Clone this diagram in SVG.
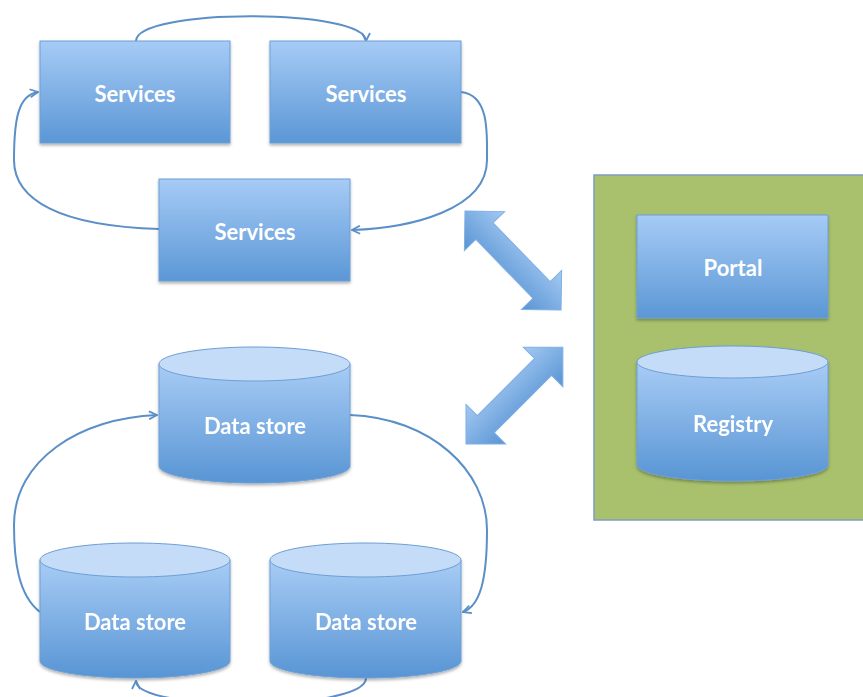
<svg xmlns="http://www.w3.org/2000/svg" width="863" height="697" viewBox="0 0 863 697">
<defs>
<linearGradient id="gBox" x1="0" y1="0" x2="0" y2="1">
<stop offset="0" stop-color="#a6cbf6"/>
<stop offset="1" stop-color="#5b97d5"/>
</linearGradient>
<linearGradient id="gCyl" x1="0" y1="0" x2="0" y2="1">
<stop offset="0" stop-color="#a8ccf5"/>
<stop offset="1" stop-color="#5895d4"/>
</linearGradient>
<linearGradient id="gArr" gradientUnits="userSpaceOnUse" x1="0" y1="-28" x2="0" y2="28">
<stop offset="0" stop-color="#a4c9f3"/>
<stop offset="1" stop-color="#5894d3"/>
</linearGradient>
<filter id="sh" x="-10%" y="-10%" width="120%" height="130%">
<feDropShadow dx="0" dy="2" stdDeviation="1.5" flood-color="#000" flood-opacity="0.3"/>
</filter>
<marker id="arr" viewBox="0 0 10 10" refX="9" refY="5" markerWidth="10" markerHeight="10" markerUnits="userSpaceOnUse" orient="auto">
<path d="M1,1 L9,5 L1,9" fill="none" stroke="#5b8fc8" stroke-width="1.8"/>
</marker>
</defs>
<style>
.box{fill:url(#gBox);stroke:#6d9fd6;stroke-width:1;filter:url(#sh)}
.cyl{fill:url(#gCyl);stroke:#6d9fd6;stroke-width:1}
.cap{fill:#c4dcf7;stroke:#6d9fd6;stroke-width:1}
.lbl{font-family:Lato,"Liberation Sans",sans-serif;font-weight:700;font-size:22px;fill:#ffffff;text-anchor:middle}
.con{fill:none;stroke:#5b8fc8;stroke-width:2;marker-end:url(#arr)}
.blk{fill:url(#gArr);stroke:#7eaee3;stroke-width:1}
</style>
<rect id="container" x="594" y="175" width="275" height="345" fill="#a9c16d" stroke="#7f9dbd" stroke-width="1.5"/>
<g id="connectors">
<path class="con" d="M136,41 C136,8 366,8 366,41"/>
<path class="con" d="M461,92 C490,95 487,135 487,160 C487,210 410,228 352,230"/>
<path class="con" d="M159,229 C60,226 14,200 14,160 C14,120 18,95 38,92"/>
<path class="con" d="M40,612 C18,595 14,560 14,525 C14,460 80,418 157,415"/>
<path class="con" d="M350,415 C430,418 487,470 487,530 C487,580 480,606 463,612"/>
<path class="con" d="M366,678 C366,712 136,712 136,681"/>
<g id="blockArrows">
<path class="blk" transform="translate(465,211) rotate(45.9)" d="M0,0 L28,-28 L28,-12 L110,-12 L110,-28 L138,0 L110,28 L110,12 L28,12 L28,28 Z"/>
<path class="blk" transform="translate(466,444) rotate(-45)" d="M0,0 L28,-28 L28,-12 L109,-12 L109,-28 L137,0 L109,28 L109,12 L28,12 L28,28 Z"/>
</g>
</g>
<g id="services1"><rect class="box" x="40" y="41" width="190" height="102"/><text class="lbl" x="135" y="102">Services</text></g>
<g id="services2"><rect class="box" x="270" y="41" width="191" height="102"/><text class="lbl" x="366" y="102">Services</text></g>
<g id="services3"><rect class="box" x="159" y="179" width="191" height="102"/><text class="lbl" x="255" y="240">Services</text></g>
<g id="portal"><rect class="box" x="637" y="215" width="191" height="103"/><text class="lbl" x="733" y="276">Portal</text></g>
<g id="datastore1" filter="url(#sh)">
<path class="cyl" d="M159,364 L159,466 A95.5,17 0 0 0 350,466 L350,364 Z"/>
<ellipse class="cap" cx="254.5" cy="364" rx="95.5" ry="17"/>
<text class="lbl" x="255" y="434">Data store</text>
</g>
<g id="datastore2" filter="url(#sh)">
<path class="cyl" d="M40,560 L40,661 A95,17 0 0 0 230,661 L230,560 Z"/>
<ellipse class="cap" cx="135" cy="560" rx="95" ry="17"/>
<text class="lbl" x="135" y="630">Data store</text>
</g>
<g id="datastore3" filter="url(#sh)">
<path class="cyl" d="M270,560 L270,661 A95.5,17 0 0 0 461,661 L461,560 Z"/>
<ellipse class="cap" cx="365.5" cy="560" rx="95.5" ry="17"/>
<text class="lbl" x="366" y="630">Data store</text>
</g>
<g id="registry" filter="url(#sh)">
<path class="cyl" d="M637,362 L637,465 A95.5,16 0 0 0 828,465 L828,362 Z"/>
<ellipse class="cap" cx="732.5" cy="362" rx="95.5" ry="16"/>
<text class="lbl" x="733" y="432">Registry</text>
</g>
</svg>
